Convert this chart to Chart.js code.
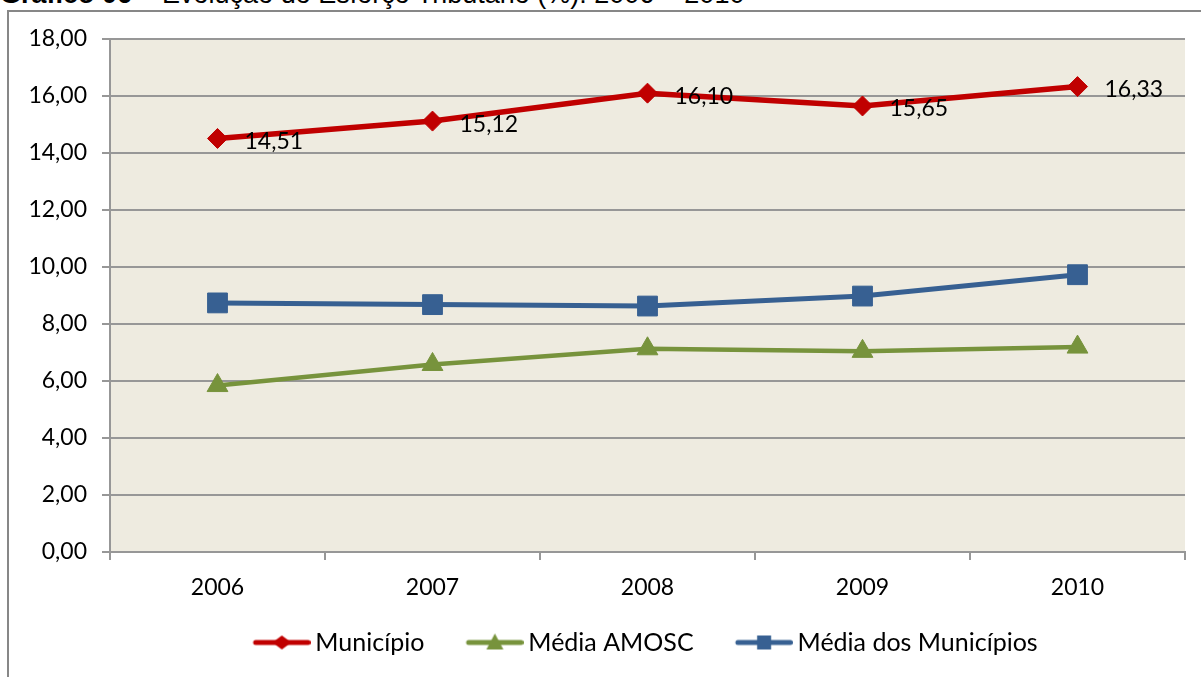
<!DOCTYPE html>
<html>
<head>
<meta charset="utf-8">
<title>Evolução do Esforço Tributário</title>
<script src="https://cdn.jsdelivr.net/npm/chart.js@4/dist/chart.umd.min.js"></script>
<style>
    html, body { margin: 0; padding: 0; background: #fff; overflow: hidden; }
    #wrap { position: relative; width: 1201px; height: 677px; overflow: hidden; }
    .caption {
        position: absolute; left: 0; top: -19px;
        font: 27px/27px "Liberation Sans", Arial, sans-serif;
        white-space: nowrap; color: #000;
    }
    .frame {
        position: absolute; left: 7px; top: 10px; width: 1300px; height: 800px;
        border: 2px solid #878787; box-sizing: border-box;
    }
    #chart { position: absolute; left: 0; top: 0; }
</style>
</head>
<body>
<div id="wrap">
    <div class="caption"><b>Gráfico 06</b> – Evolução do Esforço Tributário (%): 2006 – 2010</div>
    <div class="frame"></div>
    <canvas id="chart" width="1201" height="677"></canvas>
</div>
<script>
// values
const years = ['2006', '2007', '2008', '2009', '2010'];
const municipio = [14.51, 15.12, 16.10, 15.65, 16.33];
const mediaAmosc = [5.84, 6.58, 7.13, 7.04, 7.19];
const mediaMunicipios = [8.74, 8.68, 8.63, 8.98, 9.73];
const seriesNames = ['Município', 'Média AMOSC', 'Média dos Municípios'];
const yMin = 0, yMax = 18, yStep = 2;

const RED = '#C00000';
const GREEN = '#77933C';
const BLUE = '#376092';
const GRID = '#979797';
const FONT = 'Lato, "Open Sans", sans-serif';

function fmt(v) {
    return v.toFixed(2).replace('.', ',');
}

// line + marker icon for the legend; the line sits in the right part of the canvas
function makeLegendIcon(color, shape) {
    const c = document.createElement('canvas');
    c.width = 77; c.height = 24;
    const g = c.getContext('2d');
    g.strokeStyle = color; g.lineWidth = 5; g.lineCap = 'round';
    g.beginPath(); g.moveTo(22, 12); g.lineTo(74.5, 12); g.stroke();
    g.fillStyle = color;
    g.beginPath();
    const cx = 48.25;
    if (shape === 'diamond') {
        g.moveTo(cx - 9.5, 12); g.lineTo(cx, 5); g.lineTo(cx + 9.5, 12); g.lineTo(cx, 19);
    } else if (shape === 'triangle') {
        g.moveTo(cx, 3); g.lineTo(cx + 8.5, 19); g.lineTo(cx - 8.5, 19);
    } else {
        g.rect(cx - 7, 5, 14, 14);
    }
    g.closePath(); g.fill();
    return c;
}

const legendIcons = [
    makeLegendIcon(RED, 'diamond'),
    makeLegendIcon(GREEN, 'triangle'),
    makeLegendIcon(BLUE, 'square')
];

const plotBackground = {
    id: 'plotBackground',
    beforeDraw(chart) {
        const {ctx, chartArea} = chart;
        ctx.save();
        ctx.fillStyle = '#EEEBE0';
        ctx.fillRect(chartArea.left, chartArea.top, chartArea.right - chartArea.left, chartArea.bottom - chartArea.top);
        ctx.restore();
    }
};

// nudge the centred legend a little to the left
const legendShift = {
    id: 'legendShift',
    afterLayout(chart) {
        if (chart.legend) chart.legend.left -= 16;
    }
};

// value labels for the first series, to the right of each point
const valueLabels = {
    id: 'valueLabels',
    afterDatasetsDraw(chart) {
        const ctx = chart.ctx;
        const meta = chart.getDatasetMeta(0);
        ctx.save();
        ctx.font = '23px ' + FONT;
        ctx.fillStyle = '#000';
        ctx.textAlign = 'left';
        ctx.textBaseline = 'middle';
        meta.data.forEach((pt, i) => {
            ctx.fillText(fmt(municipio[i]), pt.x + 27, pt.y + 3);
        });
        ctx.restore();
    }
};

function lineDataset(label, data, color, pointStyle, radius, width) {
    return {
        label: label,
        data: data,
        borderColor: color,
        backgroundColor: color,
        borderWidth: width,
        tension: 0,
        pointStyle: pointStyle,
        pointRadius: radius,
        pointHoverRadius: radius,
        pointBackgroundColor: color,
        pointBorderColor: color,
        pointBorderWidth: 1
    };
}

new Chart(document.getElementById('chart'), {
    type: 'line',
    data: {
        labels: years,
        datasets: [
            lineDataset(seriesNames[0], municipio, RED, 'rectRot', 10, 5.5),
            lineDataset(seriesNames[1], mediaAmosc, GREEN, 'triangle', 12, 4.5),
            lineDataset(seriesNames[2], mediaMunicipios, BLUE, 'rect', 14, 5)
        ]
    },
    options: {
        responsive: false,
        animation: false,
        layout: { padding: { top: 39, right: 16, bottom: 12, left: 0 } },
        plugins: {
            tooltip: { enabled: false },
            legend: {
                position: 'bottom',
                fullSize: false,
                labels: {
                    usePointStyle: true,
                    pointStyleWidth: 61.5,
                    padding: 30,
                    color: '#000',
                    font: { family: FONT, size: 25 },
                    generateLabels(chart) {
                        return chart.data.datasets.map((ds, i) => ({
                            text: ds.label,
                            pointStyle: legendIcons[i],
                            fillStyle: ds.borderColor,
                            strokeStyle: ds.borderColor,
                            lineWidth: 0,
                            hidden: false,
                            datasetIndex: i
                        }));
                    }
                }
            }
        },
        scales: {
            x: {
                offset: true,
                grid: { display: true, drawOnChartArea: false, offset: true, tickLength: 8, color: GRID, lineWidth: 2 },
                border: { color: GRID, width: 2 },
                ticks: { color: '#000', padding: 14, font: { family: FONT, size: 23 } },
                afterFit(scale) { scale.height = 48; }
            },
            y: {
                min: yMin,
                max: yMax,
                grid: { color: GRID, lineWidth: 2, tickLength: 8 },
                border: { color: GRID, width: 2 },
                ticks: {
                    stepSize: yStep,
                    color: '#000',
                    padding: 15,
                    font: { family: FONT, size: 23 },
                    callback: value => fmt(value)
                },
                afterFit(scale) { scale.width = 110; }
            }
        }
    },
    plugins: [plotBackground, legendShift, valueLabels]
});
</script>
</body>
</html>
